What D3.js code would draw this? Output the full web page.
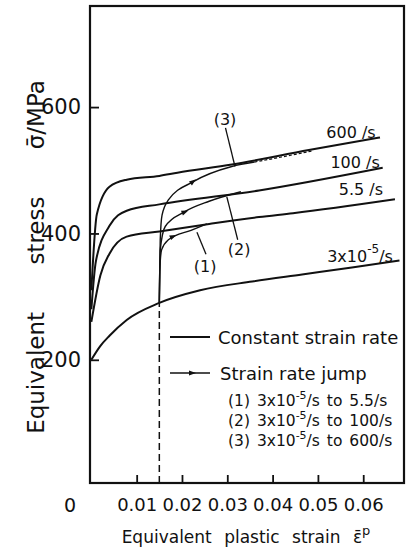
<!DOCTYPE html>
<html>
<head>
<meta charset="utf-8">
<script src="https://cdn.jsdelivr.net/npm/d3@7"></script>
<style>
  body { margin: 0; background: #fff; }
  svg { display: block; }
  text { font-family: "DejaVu Sans", sans-serif; fill: #111; }
</style>
</head>
<body>
<svg id="chart" width="410" height="552"></svg>
<script>
// constant strain rate curves: [plastic strain, stress MPa]
const rate3e5 = [[0, 200], [0.002, 222], [0.004, 238], [0.0078, 263], [0.015, 290], [0.024, 310], [0.0355, 324], [0.0465, 335], [0.0575, 346], [0.068, 357]];
const rate5_5 = [[0, 260], [0.002, 334], [0.004, 368], [0.0078, 395], [0.015, 403], [0.026, 415], [0.037, 426], [0.0445, 432], [0.067, 454]];
const rate100 = [[0, 280], [0.001, 356], [0.004, 412], [0.0078, 436], [0.015, 446], [0.037, 468], [0.0643, 504]];
const rate600 = [[0, 310], [0.0012, 430], [0.004, 474], [0.0078, 485], [0.015, 491], [0.019, 496], [0.031, 509], [0.048, 532], [0.0637, 552]];

// strain rate jump curves (jump at 0.015)
const jump1 = [[0.015, 290], [0.0151, 342], [0.0155, 374], [0.017, 390], [0.022, 405], [0.0255, 415]];
const jump2 = [[0.015, 290], [0.0152, 374], [0.0163, 411], [0.0205, 434], [0.026, 451], [0.033, 466]];
const jump3 = [[0.015, 290], [0.0152, 390], [0.0156, 429], [0.017, 453], [0.0225, 482], [0.031, 506], [0.036, 513]];
const jump3Dashed = [[0.036, 513], [0.042, 521], [0.049, 531]];
const jumpArrows = [[0.018, 395], [0.0206, 434], [0.0224, 482]];
const jumpStrain = 0.015;

// axis ticks
const xTicks = [0.01, 0.02, 0.03, 0.04, 0.05, 0.06];
const yTicks = [200, 400, 600];

// curve labels: text, strain, stress
const curveLabels = [
  ["600 /s", 0.0573, 559],
  ["100 /s", 0.0582, 513],
  ["5.5 /s", 0.0595, 469],
  ["(3)", 0.0295, 580],
  ["(2)", 0.0326, 374],
  ["(1)", 0.0251, 348]
];
// leader lines for (1)(2)(3): [from], [to]
const leaders = [
  [[0.0296, 567], [0.0317, 506]],
  [[0.0299, 458], [0.0323, 390]],
  [[0.0233, 402], [0.0253, 367]]
];
const jumpLegend = ["(1) 3x10", "(2) 3x10", "(3) 3x10"];
const jumpTargets = ["to 5.5/s", "to 100/s", "to 600/s"];

const svg = d3.select("#chart");
const margin = { top: 6, right: 6, bottom: 69, left: 90 };
const W = 410, H = 552;
const x = d3.scaleLinear().domain([-0.0003, 0.069]).range([margin.left, W - margin.right]);
const y = d3.scaleLinear().domain([5, 760]).range([H - margin.bottom, margin.top]);

const line = d3.line()
  .x((d) => x(d[0]))
  .y((d) => y(d[1]))
  .curve(d3.curveMonotoneX);

// frame
svg.append("rect")
  .attr("x", margin.left)
  .attr("y", margin.top)
  .attr("width", W - margin.left - margin.right)
  .attr("height", H - margin.top - margin.bottom)
  .attr("fill", "none")
  .attr("stroke", "#111")
  .attr("stroke-width", 2.2);

// axes
const xAxis = d3.axisBottom(x).tickValues(xTicks).tickSize(-8).tickPadding(15).tickFormat(d3.format(".2f"));
const yAxis = d3.axisLeft(y).tickValues(yTicks).tickSize(-9).tickPadding(9);

const gx = svg.append("g")
  .attr("transform", `translate(0, ${H - margin.bottom})`)
  .call(xAxis);
const gy = svg.append("g")
  .attr("transform", `translate(${margin.left}, 0)`)
  .call(yAxis);

[gx, gy].forEach((g) => {
  g.select(".domain").remove();
  g.selectAll(".tick line").attr("stroke", "#111").attr("stroke-width", 1.8);
  g.selectAll(".tick text").attr("font-family", "DejaVu Sans").attr("fill", "#111");
});
gx.selectAll(".tick text").attr("font-size", 18);
gy.selectAll(".tick text").attr("font-size", 21);

// origin label
svg.append("text")
  .attr("x", 70)
  .attr("y", H - margin.bottom + 22)
  .attr("text-anchor", "middle")
  .attr("dominant-baseline", "central")
  .attr("font-size", 19)
  .text("0");

// axis titles
const xt = svg.append("text")
  .attr("x", 246)
  .attr("y", 537)
  .attr("text-anchor", "middle")
  .attr("dominant-baseline", "central")
  .attr("font-size", 17)
  .attr("word-spacing", 7);
xt.append("tspan").text("Equivalent plastic strain \u03B5\u0304");
xt.append("tspan").attr("dy", -7).attr("font-size", 13).text("p");

svg.append("text")
  .attr("transform", "translate(36, 257) rotate(-90)")
  .attr("text-anchor", "middle")
  .attr("dominant-baseline", "central")
  .attr("font-size", 23)
  .attr("word-spacing", 40)
  .text("Equivalent stress \u03C3\u0304/MPa");

// dashed jump marker
svg.append("line")
  .attr("x1", x(jumpStrain))
  .attr("x2", x(jumpStrain))
  .attr("y1", y(5))
  .attr("y2", y(290))
  .attr("stroke", "#111")
  .attr("stroke-width", 1.5)
  .attr("stroke-dasharray", "7,4");

// constant strain rate curves
[rate3e5, rate5_5, rate100, rate600].forEach((d) => {
  svg.append("path")
    .attr("d", line(d))
    .attr("fill", "none")
    .attr("stroke", "#111")
    .attr("stroke-width", 2);
});

// jump curves
[jump1, jump2, jump3].forEach((d) => {
  svg.append("path")
    .attr("d", line(d))
    .attr("fill", "none")
    .attr("stroke", "#111")
    .attr("stroke-width", 1.4);
});
svg.append("path")
  .attr("d", line(jump3Dashed))
  .attr("fill", "none")
  .attr("stroke", "#111")
  .attr("stroke-width", 1.2)
  .attr("stroke-dasharray", "3,2");

// small arrowheads on jump curves
const jumpCurves = [jump1, jump2, jump3];
jumpArrows.forEach((p, i) => {
  const c = jumpCurves[i];
  let k = c.findIndex((q) => q[0] > p[0]);
  const a = c[k - 1], b = c[k];
  const ang = Math.atan2(y(b[1]) - y(a[1]), x(b[0]) - x(a[0])) * 180 / Math.PI;
  svg.append("path")
    .attr("d", "M4,0L-3,-2.5L-3,2.5Z")
    .attr("transform", `translate(${x(p[0])}, ${y(p[1])}) rotate(${ang})`)
    .attr("fill", "#111");
});

// leaders
leaders.forEach((l) => {
  svg.append("line")
    .attr("x1", x(l[0][0])).attr("y1", y(l[0][1]))
    .attr("x2", x(l[1][0])).attr("y2", y(l[1][1]))
    .attr("stroke", "#111")
    .attr("stroke-width", 1.3);
});

// curve labels
curveLabels.forEach((l) => {
  svg.append("text")
    .attr("x", x(l[1]))
    .attr("y", y(l[2]))
    .attr("text-anchor", "middle")
    .attr("dominant-baseline", "central")
    .attr("font-size", 16)
    .text(l[0]);
});
const lab3 = svg.append("text")
  .attr("x", x(0.0593))
  .attr("y", y(364))
  .attr("text-anchor", "middle")
  .attr("dominant-baseline", "central")
  .attr("font-size", 16);
lab3.append("tspan").text("3x10");
lab3.append("tspan").attr("dy", -7).attr("font-size", 12).text("-5");
lab3.append("tspan").attr("dy", 7).text("/s");

// legend
const lg = svg.append("g");
lg.append("line").attr("x1", 170).attr("x2", 210).attr("y1", 337).attr("y2", 337)
  .attr("stroke", "#111").attr("stroke-width", 2);
lg.append("text").attr("x", 218).attr("y", 337).attr("dominant-baseline", "central")
  .attr("font-size", 18).text("Constant strain rate");
lg.append("line").attr("x1", 170).attr("x2", 210).attr("y1", 373).attr("y2", 373)
  .attr("stroke", "#111").attr("stroke-width", 1.4);
lg.append("path").attr("d", "M4,0L-3,-2.5L-3,2.5Z").attr("transform", "translate(192, 373)").attr("fill", "#111");
lg.append("text").attr("x", 220).attr("y", 373).attr("dominant-baseline", "central")
  .attr("font-size", 18).text("Strain rate jump");

jumpLegend.forEach((t, i) => {
  const tx = lg.append("text")
    .attr("x", 228)
    .attr("y", 401 + i * 20)
    .attr("dominant-baseline", "central")
    .attr("font-size", 15.5)
    .attr("word-spacing", 2);
  tx.append("tspan").text(t);
  tx.append("tspan").attr("dy", -6).attr("font-size", 11).text("-5");
  tx.append("tspan").attr("dy", 6).text("/s  " + jumpTargets[i]);
});
</script>
</body>
</html>
